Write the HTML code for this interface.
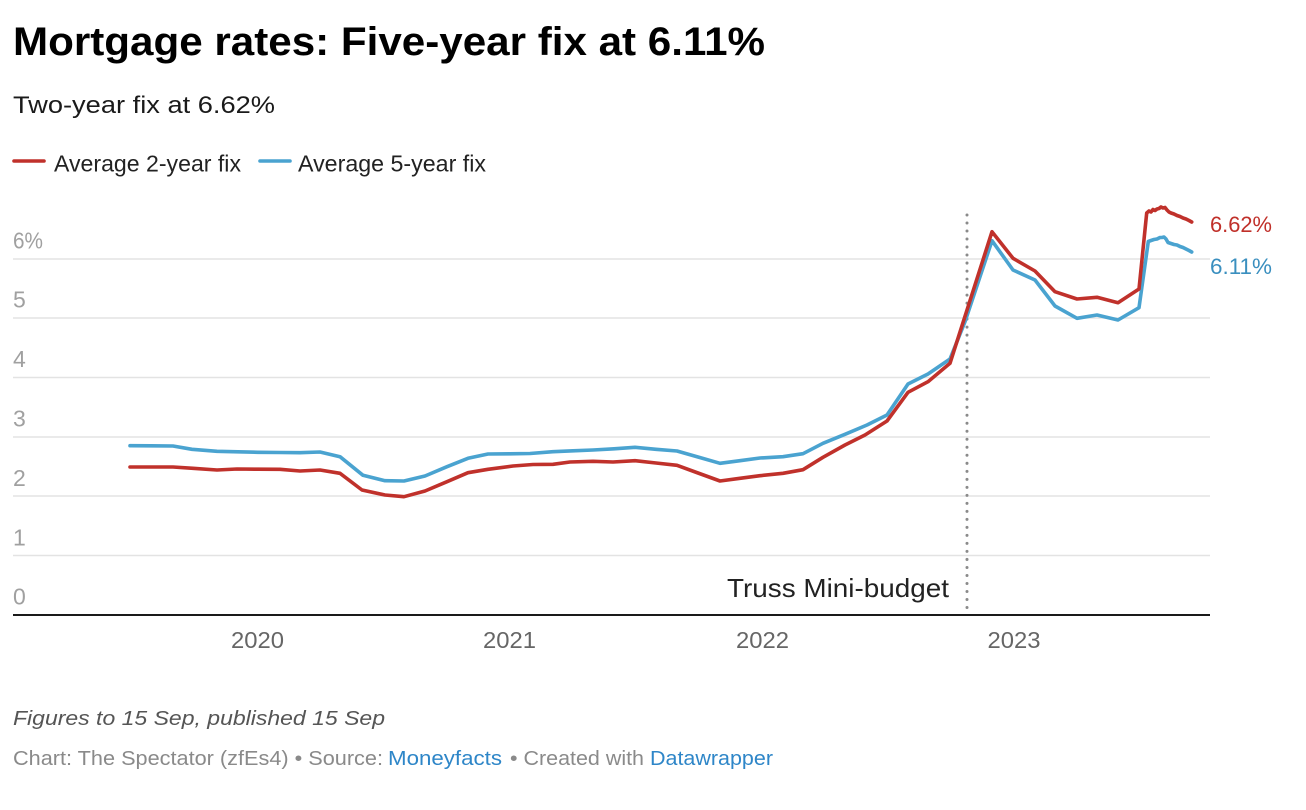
<!DOCTYPE html>
<html>
<head>
<meta charset="utf-8">
<style>
  html,body{margin:0;padding:0;background:#fff;}
  svg{display:block;}
  text{font-family:"Liberation Sans", Arial, sans-serif;}
</style>
</head>
<body>
<svg width="1306" height="810" viewBox="0 0 1306 810" xmlns="http://www.w3.org/2000/svg">
  <rect width="1306" height="810" fill="#fff"/>

  <!-- Title -->
  <text x="13" y="55" font-size="40" font-weight="bold" fill="#000" textLength="752" lengthAdjust="spacingAndGlyphs">Mortgage rates: Five-year fix at 6.11%</text>
  <!-- Subtitle -->
  <text x="13" y="113" font-size="24.5" fill="#1a1a1a" textLength="262" lengthAdjust="spacingAndGlyphs">Two-year fix at 6.62%</text>

  <!-- Legend -->
  <line x1="14" y1="161" x2="44" y2="161" stroke="#c0312b" stroke-width="3.6" stroke-linecap="round"/>
  <text x="54" y="171.5" font-size="23" fill="#222" textLength="187" lengthAdjust="spacingAndGlyphs">Average 2-year fix</text>
  <line x1="260" y1="161" x2="290" y2="161" stroke="#4aa3d0" stroke-width="3.6" stroke-linecap="round"/>
  <text x="298" y="171.5" font-size="23" fill="#222" textLength="188" lengthAdjust="spacingAndGlyphs">Average 5-year fix</text>

  <!-- Gridlines -->
  <g stroke="#e3e3e3" stroke-width="1.4">
    <line x1="13" y1="259" x2="1210" y2="259"/>
    <line x1="13" y1="318" x2="1210" y2="318"/>
    <line x1="13" y1="377.5" x2="1210" y2="377.5"/>
    <line x1="13" y1="437" x2="1210" y2="437"/>
    <line x1="13" y1="496" x2="1210" y2="496"/>
    <line x1="13" y1="555.5" x2="1210" y2="555.5"/>
  </g>

  <!-- Y labels -->
  <g font-size="23" fill="#a0a0a0">
    <text x="13" y="248.5" textLength="30" lengthAdjust="spacingAndGlyphs">6%</text>
    <text x="13" y="307.5">5</text>
    <text x="13" y="367">4</text>
    <text x="13" y="426.5">3</text>
    <text x="13" y="486">2</text>
    <text x="13" y="545.5">1</text>
    <text x="13" y="604.5">0</text>
  </g>

  <!-- Truss mini-budget marker -->
  <line x1="967" y1="215" x2="967" y2="610" stroke="#8a8a8a" stroke-width="3" stroke-dasharray="0.01 8" stroke-linecap="round"/>
  <text x="727" y="597" font-size="26" fill="#222" textLength="222" lengthAdjust="spacingAndGlyphs">Truss Mini-budget</text>

  <!-- Blue series: 5-year -->
  <polyline fill="none" stroke="#4aa3d0" stroke-width="3.6" stroke-linejoin="round" stroke-linecap="round"
    points="130,445.7 151,445.8 173,446 192,449.3 217,451.3 238,451.8 258,452.3 280,452.5 300,452.7 320,452 340,456.7 363,475.3 385,480.7 404,481 425,476 447,466.7 468,458.3 488,454 510,453.8 530,453.5 553,451.7 573,450.8 593,450 614,448.8 635,447.3 656,449.3 677,451 698,457 720,463.3 740,460.7 760,458 783,456.7 803,453.7 823,443.3 845,434.3 867,425 887,415 908,384 928,374 950,359 965,321.7 992,240.7 1013,270 1035,280 1055,306 1077,318.3 1097,315 1118,320 1139,307.7 1148.3,241.5 1151,240.5 1154,239.5 1157,239 1160,237.5 1162,237.5 1164,237 1166,239 1168,242.5 1171,243.5 1174,244.5 1177,245 1180,246.5 1183,247.5 1186,249 1189,250.5 1191.7,252"/>

  <!-- Red series: 2-year -->
  <polyline fill="none" stroke="#c0312b" stroke-width="3.6" stroke-linejoin="round" stroke-linecap="round"
    points="130,467 151,467 173,467 193,468.3 217,470 237,469 258,469.2 280,469.3 300,471 320,470 340,473.3 362,490 385,495 404,496.7 425,491 447,481.7 468,472.7 488,469.3 513,466 533,464.5 553,464.3 570,462 593,461.3 613,462 635,460.7 656,463 677,465.3 698,473 720,481 740,478.3 760,475.7 783,473.3 803,469.7 823,457.3 845,445 865,435 887,421 908,392.3 928,381.7 950,363.3 992,231.7 1013,258.3 1035,271 1055,291.7 1077,299 1097,297.3 1118,302.7 1139,289 1146.7,213 1149,211 1151,212 1153,209.5 1155,210.5 1157,209 1159,208.5 1161,207 1163,208 1165,207.5 1167,210 1169,212 1171,213 1174,214 1177,215.5 1180,216.5 1183,218 1186,219 1189,220.5 1191.7,222"/>

  <!-- End labels -->
  <text x="1210" y="232" font-size="22" fill="#c0302a" textLength="62" lengthAdjust="spacingAndGlyphs">6.62%</text>
  <text x="1210" y="274" font-size="22" fill="#3a8fbf" textLength="62" lengthAdjust="spacingAndGlyphs">6.11%</text>

  <!-- X axis -->
  <line x1="13" y1="615" x2="1210" y2="615" stroke="#1a1a1a" stroke-width="2"/>
  <g font-size="23" fill="#666" text-anchor="middle">
    <text x="257.5" y="648" textLength="53" lengthAdjust="spacingAndGlyphs">2020</text>
    <text x="509.5" y="648" textLength="53" lengthAdjust="spacingAndGlyphs">2021</text>
    <text x="762.5" y="648" textLength="53" lengthAdjust="spacingAndGlyphs">2022</text>
    <text x="1014" y="648" textLength="53" lengthAdjust="spacingAndGlyphs">2023</text>
  </g>

  <!-- Footer -->
  <text x="13" y="725" font-size="20" font-style="italic" fill="#555" textLength="372" lengthAdjust="spacingAndGlyphs">Figures to 15 Sep, published 15 Sep</text>
  <text x="13" y="765" font-size="20" fill="#8a8a8a" textLength="370" lengthAdjust="spacingAndGlyphs">Chart: The Spectator (zfEs4) • Source:</text>
  <text x="388" y="765" font-size="20" fill="#2e86c8" textLength="114" lengthAdjust="spacingAndGlyphs">Moneyfacts</text>
  <text x="510" y="765" font-size="20" fill="#8a8a8a" textLength="134" lengthAdjust="spacingAndGlyphs">• Created with</text>
  <text x="650" y="765" font-size="20" fill="#2e86c8" textLength="123" lengthAdjust="spacingAndGlyphs">Datawrapper</text>
</svg>
</body>
</html>
